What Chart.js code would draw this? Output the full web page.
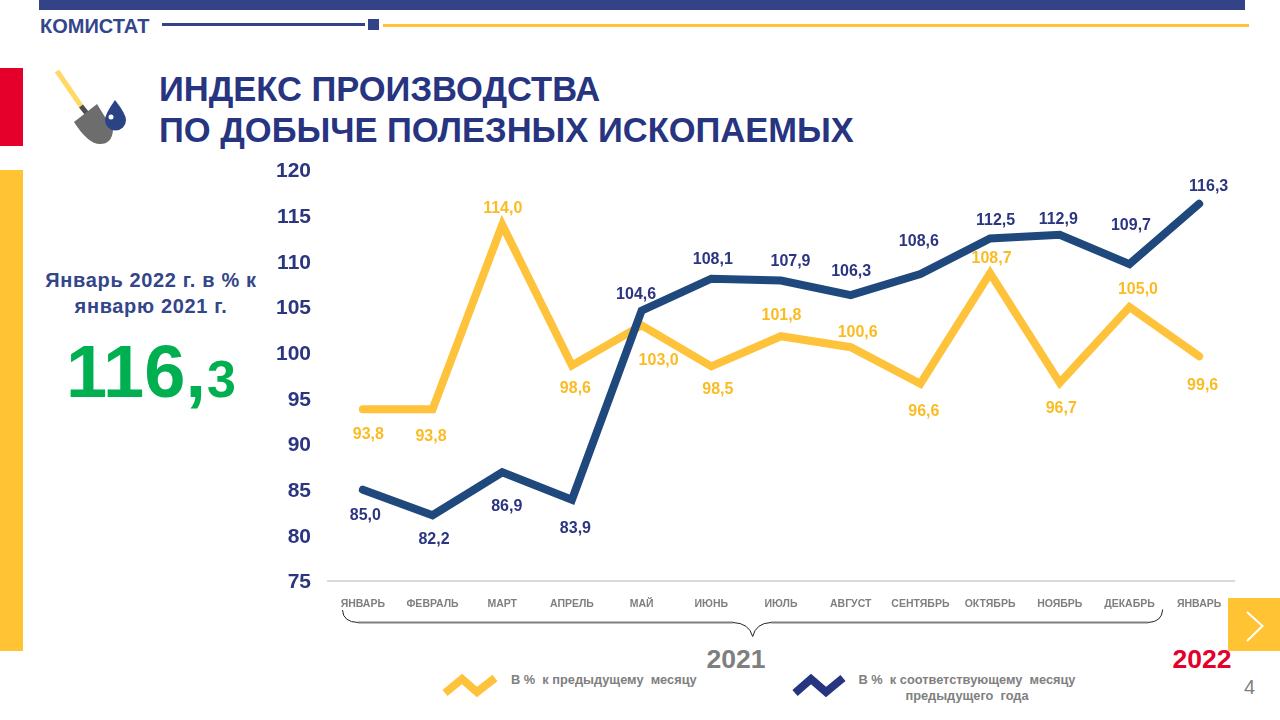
<!DOCTYPE html>
<html lang="ru">
<head>
<meta charset="utf-8">
<title>Индекс производства по добыче полезных ископаемых</title>
<script src="https://cdn.jsdelivr.net/npm/chart.js@4/dist/chart.umd.min.js"></script>
<style>
    html, body { margin: 0; padding: 0; background: #fff; }
    #slide { position: relative; width: 1280px; height: 720px; overflow: hidden; font-family: "Liberation Sans", Arial, sans-serif; }
    #slide canvas, #slide svg { position: absolute; left: 0; top: 0; }
    .box { position: absolute; }
    .txt { position: absolute; font-weight: bold; white-space: nowrap; }
</style>
</head>
<body>
<div id="slide">
    <div class="box" style="left:39px;top:0;width:1206px;height:10px;background:#344387"></div>
    <div class="box" style="left:162px;top:23px;width:203px;height:3px;background:#344387"></div>
    <div class="box" style="left:368px;top:19px;width:11px;height:11px;background:#344387"></div>
    <div class="box" style="left:383px;top:24px;width:866px;height:3px;background:#ffc333"></div>
    <div class="box" style="left:0;top:68px;width:23px;height:78px;background:#e4002b"></div>
    <div class="box" style="left:0;top:170px;width:23px;height:481px;background:#ffc333"></div>
    <div class="box" style="left:1228px;top:598px;width:52px;height:53px;background:#ffc333"></div>

    <div class="txt" style="left:40px;top:14px;font-size:20px;line-height:24px;color:#34468a">КОМИСТАТ</div>
    <div class="txt" style="left:159px;top:68.5px;font-size:34.5px;line-height:41px;color:#27347f">ИНДЕКС ПРОИЗВОДСТВА<br>ПО ДОБЫЧЕ ПОЛЕЗНЫХ ИСКОПАЕМЫХ</div>
    <div class="txt" style="left:21px;top:267px;width:260px;text-align:center;font-size:20px;letter-spacing:.65px;line-height:26px;color:#34468a">Январь 2022 г. в % к<br>январю 2021 г.</div>
    <div class="txt" style="left:66px;top:327px;line-height:90px;color:#00b050;font-size:74px">116,<span style="font-size:52px;margin-left:1px">3</span></div>
    <div class="txt" style="left:676px;top:643px;width:120px;text-align:center;font-size:26.5px;line-height:32px;color:#7f7f7f">2021</div>
    <div class="txt" style="left:1142px;top:643px;width:120px;text-align:center;font-size:26.5px;line-height:32px;color:#e4002b">2022</div>
    <div class="txt" style="left:511px;top:672px;font-size:12.8px;line-height:16px;color:#808080;white-space:pre">В %  к предыдущему  месяцу</div>
    <div class="txt" style="left:827px;top:672px;width:280px;text-align:center;font-size:12.8px;line-height:16px;color:#808080;white-space:pre">В %  к соответствующему  месяцу<br>предыдущего  года</div>
    <div class="txt" style="left:1244px;top:675px;font-size:20px;line-height:24px;font-weight:normal;color:#7f7f7f">4</div>

    <canvas id="productionChart" width="1280" height="720"></canvas>

    <svg width="1280" height="720" viewBox="0 0 1280 720" fill="none">
        <!-- shovel and drop -->
        <line x1="57" y1="71" x2="81" y2="106" stroke="#ffd966" stroke-width="5"/>
        <line x1="81" y1="106" x2="92" y2="120" stroke="#4d4d4d" stroke-width="5"/>
        <path d="M74 122 L97 104 L113 130 Q112 144 100 144 Q88 144 74 122 Z" fill="#6d6d6d"/>
        <path d="M115 100 Q126 114 126 120 A10.5 10.5 0 0 1 105 120 Q105 114 115 100 Z" fill="#2a4385"/>
        <circle cx="111" cy="117" r="2.5" fill="#fff"/>
        <!-- year brace -->
        <path d="M342.5 610 Q343 622 358 622.5 M733 622.5 Q749 623 752.7 636.5 Q756 623 771 622.5 M1148 622.5 Q1162 622 1162.7 609.5" stroke="#222" stroke-width="1"/>
        <path d="M358 622.5 H733 M771 622.5 H1148" stroke="#7f7f7f" stroke-width="2"/>
        <!-- legend keys -->
        <path d="M445 693 L462 679 L477 692 L495 678" stroke="#ffc23b" stroke-width="8"/>
        <path d="M795 693 L811 679 L826 692 L843 678" stroke="#27347f" stroke-width="8"/>
        <!-- next arrow -->
        <path d="M1247 612 L1262.5 626 L1247 641" stroke="#fff" stroke-width="2"/>
    </svg>
</div>

<script>
const months = ['ЯНВАРЬ', 'ФЕВРАЛЬ', 'МАРТ', 'АПРЕЛЬ', 'МАЙ', 'ИЮНЬ', 'ИЮЛЬ', 'АВГУСТ', 'СЕНТЯБРЬ', 'ОКТЯБРЬ', 'НОЯБРЬ', 'ДЕКАБРЬ', 'ЯНВАРЬ'];
const prevMonth = [93.8, 93.8, 114.0, 98.6, 103.0, 98.5, 101.8, 100.6, 96.6, 108.7, 96.7, 105.0, 99.6];
const prevYear = [85.0, 82.2, 86.9, 83.9, 104.6, 108.1, 107.9, 106.3, 108.6, 112.5, 112.9, 109.7, 116.3];

// hand placed label offsets from each point, [dx, dy]
const prevMonthLabelPos = [[5.5, 25], [-1.5, 27], [0.5, -16.5], [3.5, 23], [17, 35], [6.5, 23], [0.5, -21], [7, -15], [3.5, 28], [1.5, -14.5], [1.5, 26], [8.5, -17], [3.5, 29]];
const prevYearLabelPos = [[2.5, 26], [1.5, 24], [4.5, 34], [3.5, 29], [-5.5, -16], [1.5, -19], [9.5, -19], [0.5, -24], [-1.5, -33], [5.5, -18], [-1.5, -15], [1.5, -38], [9.5, -17]];

// Draws the value labels next to the points
const valueLabels = {
    id: 'valueLabels',
    afterDatasetsDraw(chart) {
        const ctx = chart.ctx;
        ctx.save();
        ctx.font = 'bold 16px "Liberation Sans", Arial, sans-serif';
        ctx.textAlign = 'center';
        ctx.textBaseline = 'middle';
        chart.data.datasets.forEach((ds, d) => {
            const points = chart.getDatasetMeta(d).data;
            ctx.fillStyle = ds.labelColor;
            ds.data.forEach((v, i) => {
                const text = v.toFixed(1).replace('.', ',');
                ctx.fillText(text, points[i].x + ds.labelPos[i][0], points[i].y + ds.labelPos[i][1]);
            });
        });
        ctx.restore();
    }
};

new Chart(document.getElementById('productionChart'), {
    type: 'line',
    data: {
        labels: months,
        datasets: [
            {
                label: 'В % к предыдущему месяцу',
                data: prevMonth,
                borderColor: '#ffc23b',
                labelColor: '#fbbc23',
                labelPos: prevMonthLabelPos,
                order: 2
            },
            {
                label: 'В % к соответствующему месяцу предыдущего года',
                data: prevYear,
                borderColor: '#1f497d',
                labelColor: '#2b3580',
                labelPos: prevYearLabelPos,
                order: 1
            }
        ]
    },
    options: {
        responsive: false,
        animation: false,
        layout: { padding: { left: 260, right: 46, top: 170, bottom: 99 } },
        elements: {
            line: { borderWidth: 8, tension: 0, borderCapStyle: 'round', borderJoinStyle: 'miter' },
            point: { radius: 0 }
        },
        plugins: { legend: { display: false }, tooltip: { enabled: false } },
        scales: {
            x: {
                offset: true,
                afterFit(scale) { scale.height = 40; },
                grid: { display: false, drawTicks: false },
                border: { color: '#d9d9d9', width: 2 },
                ticks: {
                    color: '#7f7f7f',
                    font: { family: '"Liberation Sans"', size: 10.5, weight: 'bold' },
                    padding: 17,
                    autoSkip: false,
                    maxRotation: 0
                }
            },
            y: {
                min: 75,
                max: 120,
                afterFit(scale) { scale.width = 68; },
                grid: { display: false, drawTicks: false },
                border: { display: false },
                ticks: {
                    stepSize: 5,
                    color: '#2b3580',
                    font: { family: '"Liberation Sans"', size: 21, weight: 'bold' },
                    padding: 17,
                    labelOffset: 1.5
                }
            }
        }
    },
    plugins: [valueLabels]
});
</script>
</body>
</html>
